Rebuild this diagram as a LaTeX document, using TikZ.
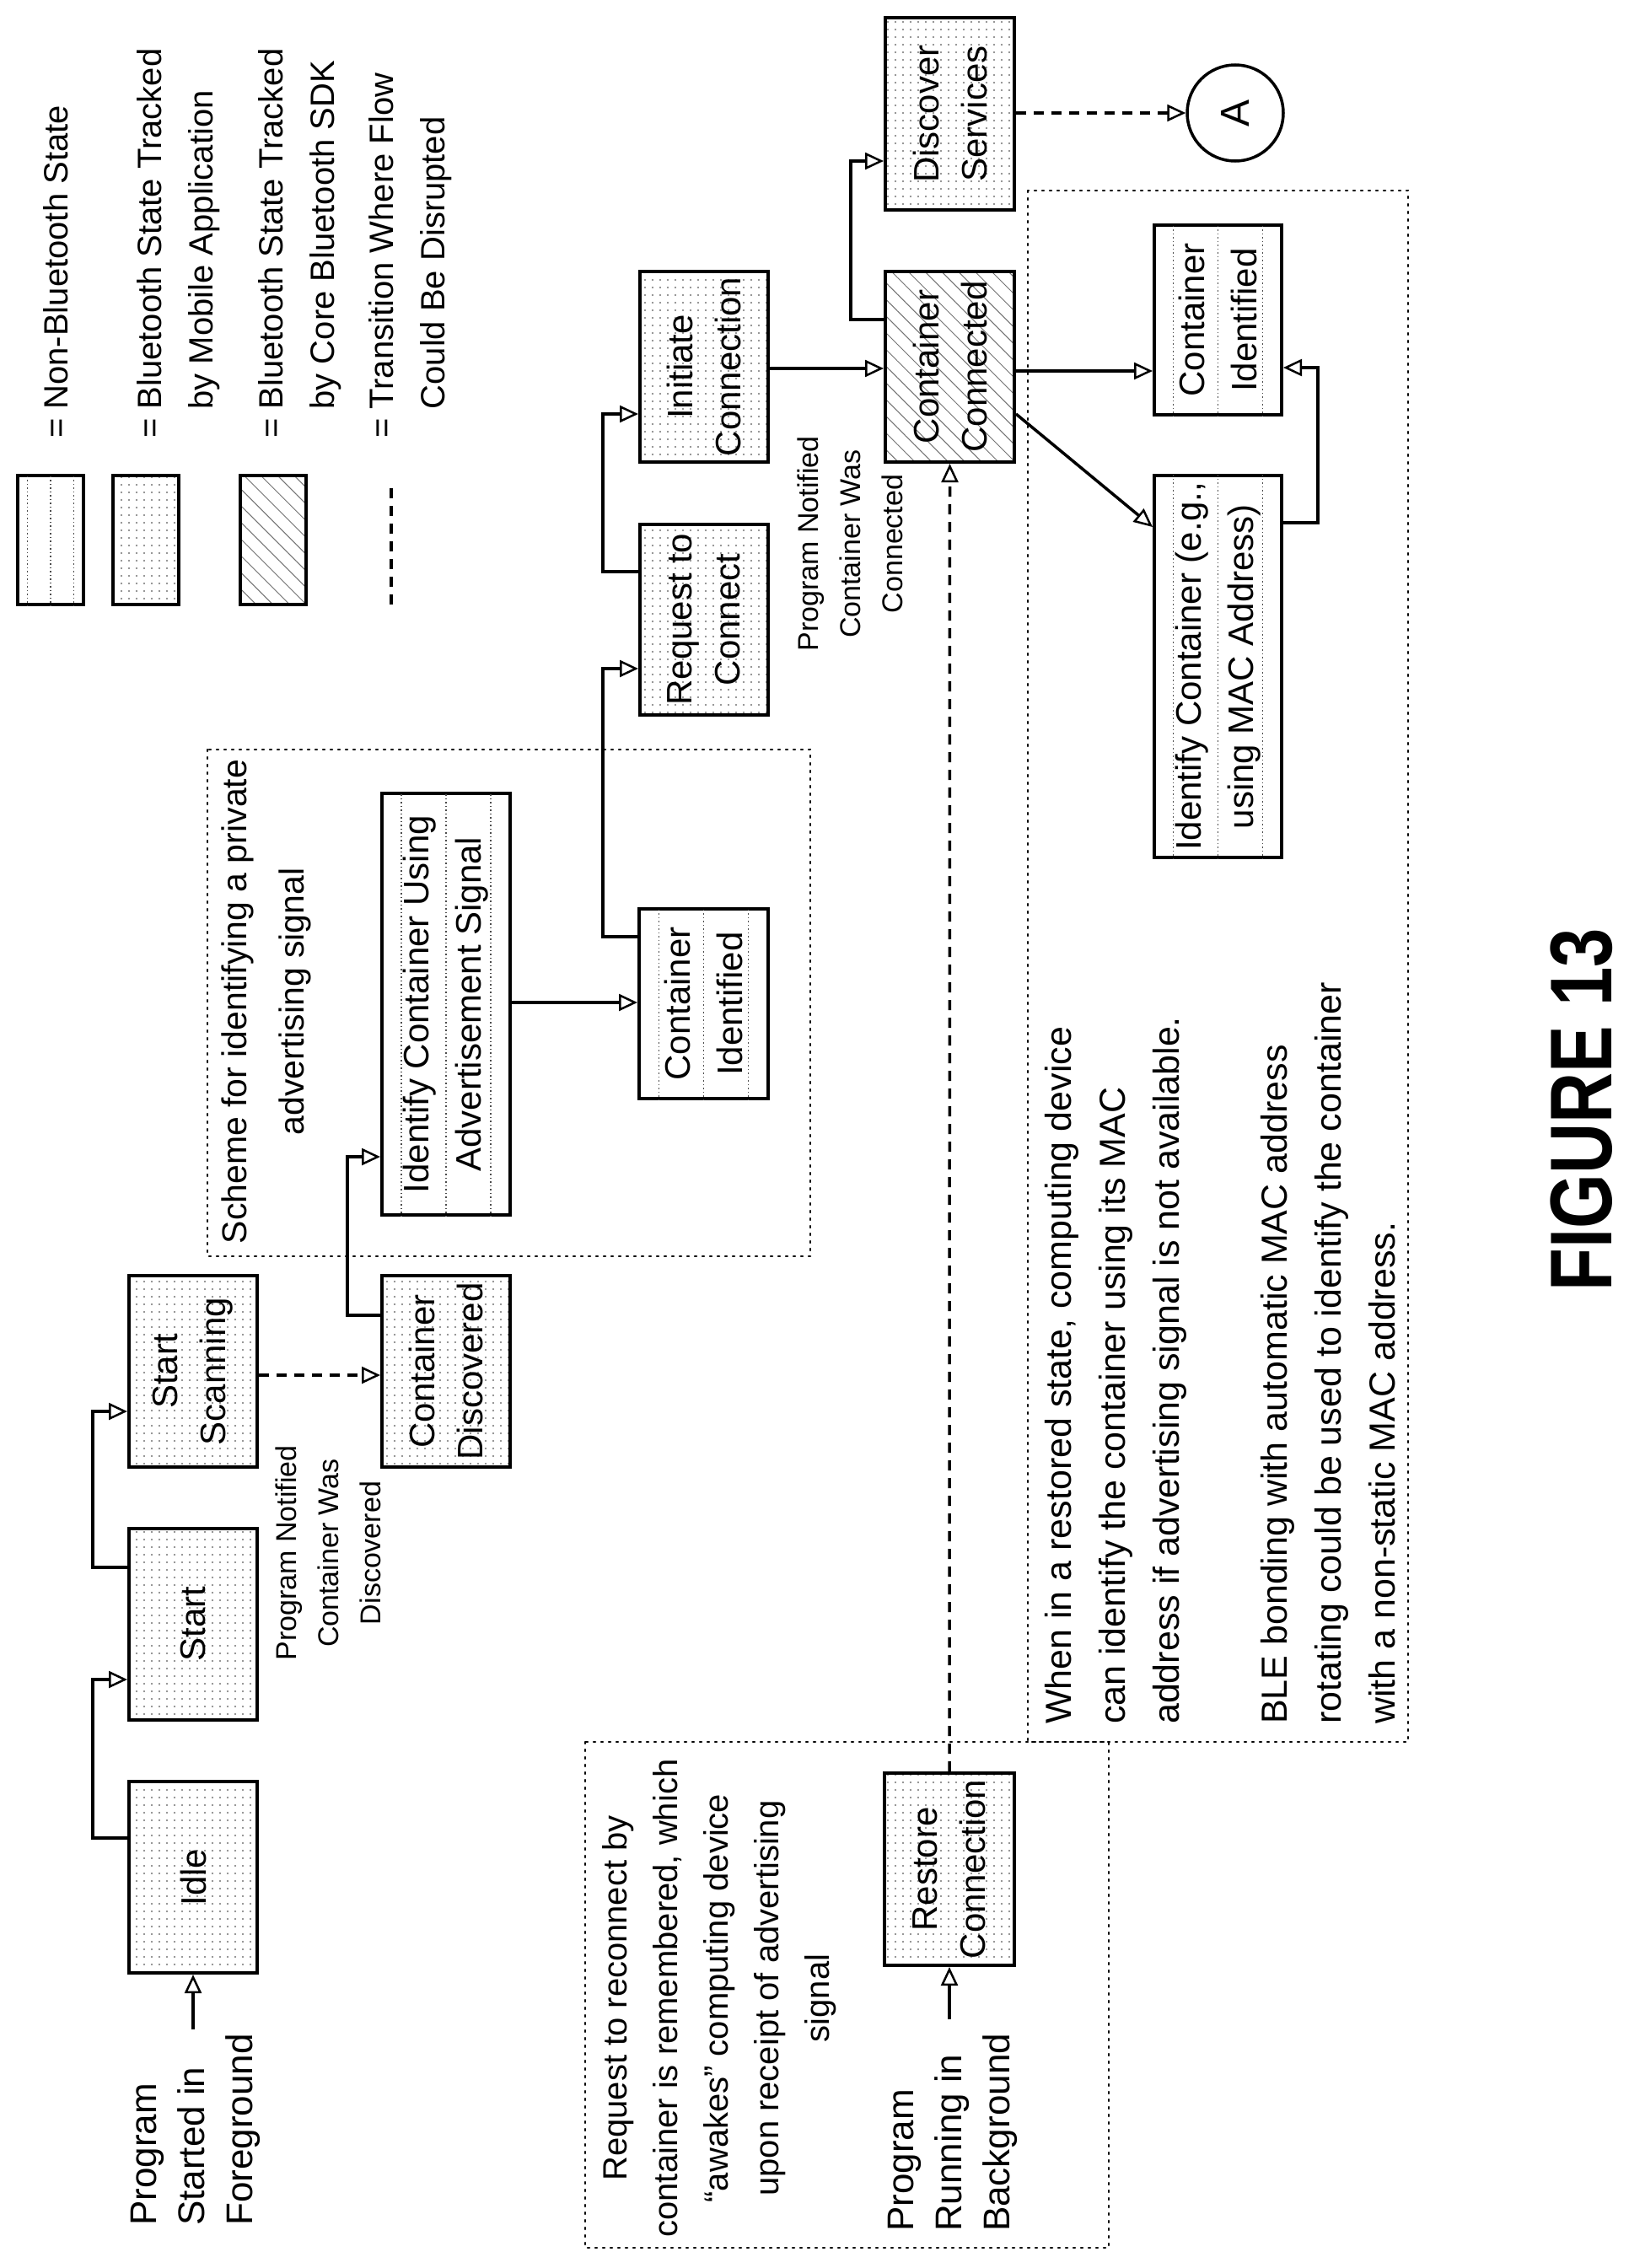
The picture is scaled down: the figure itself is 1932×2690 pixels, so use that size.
\documentclass[tikz,border=0pt]{standalone}
\usepackage{fontspec}
\usepackage{graphicx}
\setmainfont{Liberation Sans}
\usetikzlibrary{patterns.meta,arrows.meta,calc}
\newcommand\fsz[2]{\fontsize{#1}{#2}\selectfont}
\newcommand\nbl[1]{\foreach \f in {0.16,0.5,0.84}{\draw[line width=1.2pt, dash pattern=on 1.5pt off 3pt, black!70] ($(#1.north west)!\f!(#1.south west)$) -- ($(#1.north east)!\f!(#1.south east)$);}}
\begin{document}
\begin{tikzpicture}[x=1pt,y=-1pt,
  bx/.style={draw, line width=4pt, rotate=90, inner sep=0pt, align=center, font=\fsz{42}{57}},
  mob/.style={bx, pattern={Dots[distance=9pt,radius=1.1pt]}, pattern color=black!55},
  core/.style={bx, pattern={Lines[angle=-45,distance=14pt,line width=1pt]}, pattern color=black!55},
  nbt/.style={bx, fill=white, font=\fsz{42}{62}},
  arr/.style={line width=3.5pt, -{Triangle[open,length=22pt,width=20pt,line width=2.5pt]}},
  dsh/.style={arr, dash pattern=on 12pt off 9pt},
  dotbox/.style={line width=2.5pt, dash pattern=on 2pt off 7pt, line cap=round},
  lbl/.style={rotate=90, inner sep=0pt, align=center},
  ltxt/.style={rotate=90, inner sep=0pt, anchor=base west}]
\useasboundingbox (0,0) rectangle (1932,2690);
\fill[white] (0,0) rectangle (1932,2690);
% dotted frames
\draw[dotbox] (246,889) rectangle (961,1490);
\draw[dotbox] (694,2066) rectangle (1315,2666);
\draw[dotbox] (1219,226) rectangle (1670,2066);
% legend
\node[nbt, minimum width=153pt, minimum height=78pt] (lg1) at (60,640.5) {};
\nbl{lg1}
\node[mob, minimum width=153pt, minimum height=78pt] (lg2) at (173,640.5) {};
\node[core, minimum width=153pt, minimum height=78pt] (lg3) at (323.5,640.5) {};
\coordinate (lg4a) at (464,717);
\coordinate (lg4b) at (464,577);
\draw[line width=3.5pt, dash pattern=on 12pt off 9pt] (lg4a) -- (lg4b);
\node[ltxt, font=\fsz{40}{61}] (t1) at (80,520) {= Non-Bluetooth State};
\node[ltxt, font=\fsz{40}{61}] (t2) at (191,520) {\begin{tabular}[t]{@{}l@{ }l@{}}= & Bluetooth State Tracked\\ & by Mobile Application\end{tabular}};
\node[ltxt, font=\fsz{40}{61}] (t3) at (335,520) {\begin{tabular}[t]{@{}l@{ }l@{}}= & Bluetooth State Tracked\\ & by Core Bluetooth SDK\end{tabular}};
\node[ltxt, font=\fsz{40}{61}] (t4) at (466,520) {\begin{tabular}[t]{@{}l@{ }l@{}}= & Transition Where Flow\\ & Could Be Disrupted\end{tabular}};
% boxes
\node[mob, minimum width=227pt, minimum height=152pt] (idle) at (229,2226.5) {Idle};
\node[mob, minimum width=227pt, minimum height=152pt] (start) at (229,1926) {Start};
\node[mob, minimum width=227pt, minimum height=152pt] (scan) at (229,1626.5) {Start\\Scanning};
\node[mob, minimum width=227pt, minimum height=152pt] (cd) at (529,1626.5) {Container\\Discovered};
\node[nbt, minimum width=500pt, minimum height=152pt] (idadv) at (529,1191) {Identify Container Using\\Advertisement Signal};
\nbl{idadv}
\node[nbt, minimum width=225pt, minimum height=153pt] (ci1) at (834.5,1190.5) {Container\\Identified};
\nbl{ci1}
\node[mob, minimum width=226pt, minimum height=152pt] (req) at (835,735) {Request to\\Connect};
\node[mob, minimum width=226pt, minimum height=152pt] (init) at (835,435) {Initiate\\Connection};
\node[core, minimum width=226pt, minimum height=153pt] (cc) at (1126.5,435) {Container\\Connected};
\node[mob, minimum width=228pt, minimum height=153pt] (disc) at (1126.5,135) {Discover\\Services};
\node[draw, circle, line width=3.5pt, minimum size=114pt, rotate=90, inner sep=0pt, font=\fsz{48}{50}] (A) at (1465,134) {A};
\node[nbt, minimum width=225pt, minimum height=151pt] (ci2) at (1444.5,379.5) {Container\\Identified};
\nbl{ci2}
\node[nbt, minimum width=453pt, minimum height=151pt] (idmac) at (1444.5,790.5) {Identify Container (e.g.,\\using MAC Address)};
\nbl{idmac}
\node[mob, minimum width=228pt, minimum height=154pt] (restore) at (1126,2217) {Restore\\Connection};
% texts
\node[ltxt, font=\fsz{44}{57}] (pf) at (185,2640) {\begin{tabular}[t]{@{}l@{}}Program\\Started in\\Foreground\end{tabular}};
\node[ltxt, font=\fsz{44}{57}] (pb) at (1083,2647) {\begin{tabular}[t]{@{}l@{}}Program\\Running in\\Background\end{tabular}};
\node[lbl, font=\fsz{34}{50}] (nd) at (389,1842) {Program Notified\\Container Was\\Discovered};
\node[lbl, font=\fsz{34}{50}] (nc) at (1008,645) {Program Notified\\Container Was\\Connected};
\node[lbl, font=\fsz{41}{68}] (sch) at (316,1188) {Scheme for identifying a private\\advertising signal};
\node[lbl, font=\fsz{40}{60}] (rq) at (853,2370) {Request to reconnect by\\container is remembered, which\\``awakes'' computing device\\upon receipt of advertising\\signal};
\node[ltxt, font=\fsz{43}{64}] (note) at (1270,2045) {\begin{tabular}[t]{@{}l@{}}When in a restored state, computing device\\can identify the container using its MAC\\address if advertising signal is not available.\\[64pt]BLE bonding with automatic MAC address\\rotating could be used to identify the container\\with a non-static MAC address.\end{tabular}};
\node[lbl, font=\fsz{104}{110}\bfseries] (fig) at (1876,1316) {\scalebox{0.8}[1]{FIGURE 13}};
% connectors
\coordinate (fg) at (229,2407);
\draw[arr] (fg) -- (idle.west);
\draw[arr] (idle.north |- 0,2180) -- (110,2180) -- (110,1992) -- (start.north |- 0,1992);
\draw[arr] (start.north |- 0,1859) -- (110,1859) -- (110,1674) -- (scan.north |- 0,1674);
\draw[dsh] (scan.south |- 0,1631) -- (cd.north |- 0,1631);
\draw[arr] (cd.north |- 0,1560) -- (412,1560) -- (412,1372) -- (idadv.north |- 0,1372);
\draw[arr] (idadv.south |- 0,1189) -- (ci1.north |- 0,1189);
\draw[arr] (ci1.north |- 0,1111) -- (715,1111) -- (715,793) -- (req.north |- 0,793);
\draw[arr] (req.north |- 0,678) -- (715,678) -- (715,491) -- (init.north |- 0,491);
\draw[arr] (init.south |- 0,437) -- (cc.north |- 0,437);
\draw[arr] (cc.north |- 0,379) -- (1009,379) -- (1009,191) -- (disc.north |- 0,191);
\draw[dsh] (disc.south |- 0,134) -- (A);
\draw[arr] (cc.south |- 0,440) -- (ci2.north |- 0,440);
\draw[arr] (cc.south |- 0,491) -- (idmac.north |- 0,625);
\draw[arr] (idmac.south |- 0,620) -- (1563,620) -- (1563,436) -- (ci2.south |- 0,436);
\draw[dsh] (restore.east) -- (cc.west);
\coordinate (bg) at (1126,2395);
\draw[arr] (bg) -- (restore.west);
\end{tikzpicture}
\end{document}
